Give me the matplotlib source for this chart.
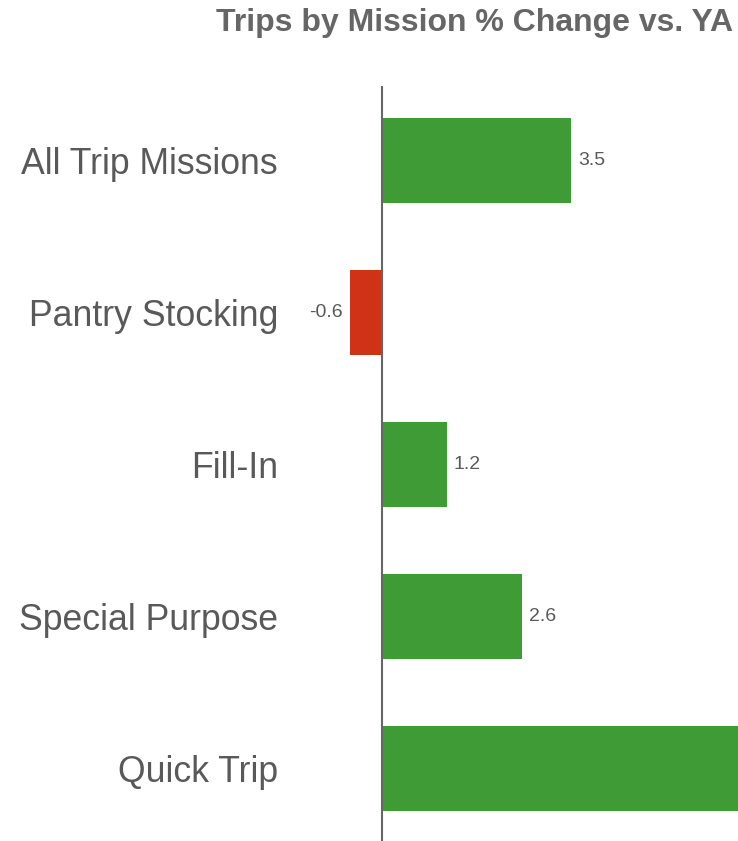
import matplotlib
matplotlib.use("Agg")
import matplotlib.pyplot as plt

categories = ["All Trip Missions", "Pantry Stocking", "Fill-In", "Special Purpose", "Quick Trip"]
values = [3.5, -0.6, 1.2, 2.6, 6.9]
value_labels = ["3.5", "-0.6", "1.2", "2.6", "6.9"]

plt.rcParams['font.family'] = ['Liberation Sans', 'DejaVu Sans']

W, H = 738, 841
fig = plt.figure(figsize=(W/100, H/100), dpi=100)
x_left_px, x_right_px = 328, 738
top_px = 86
ax = fig.add_axes([x_left_px/W, 0, (x_right_px-x_left_px)/W, (H-top_px)/H])

green = "#3F9B35"
red = "#D03218"
colors = [green if v >= 0 else red for v in values]
ypos = list(range(len(categories)))
ax.barh(ypos, values, height=0.56, color=colors, zorder=2)

xmin, xmax = -1.0, 6.593
ax.set_xlim(xmin, xmax)
ax.set_ylim(4.474, -0.487)
ax.axvline(0, color="#666666", lw=1.5, zorder=3)

for y, v, lab in zip(ypos, values, value_labels):
    # labels of bars running past the visible range fall outside the picture
    if v >= 0:
        if v + 0.13 < xmax:
            ax.text(v + 0.13, y, lab, ha="left", va="center", fontsize=14,
                    color="#595959", clip_on=False)
    else:
        ax.text(v - 0.13, y, lab, ha="right", va="center", fontsize=14,
                color="#595959", clip_on=False)

ax.set_yticks(ypos)
ax.set_yticklabels(categories, fontsize=25.7, color="#595959")
ax.tick_params(axis="y", length=0, pad=36)
ax.set_xticks([])
for s in ax.spines.values():
    s.set_visible(False)

fig.text(733/W, 1 - 23/H, "Trips by Mission % Change vs. YA", ha="right", va="center",
         fontsize=23, fontweight="bold", color="#666666")

fig.savefig("out.png", dpi=100)
